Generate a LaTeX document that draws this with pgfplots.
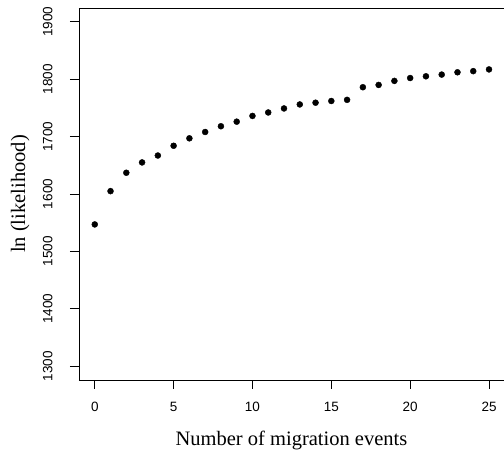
\documentclass[border=0pt]{standalone}
\usepackage{pgfplots}
\pgfplotsset{compat=1.18}
\usepackage{fontspec}
\setmainfont{Liberation Serif}
\newfontfamily\arialfont{Liberation Sans}

\begin{document}
\begin{tikzpicture}
\begin{axis}[
  scale only axis, width=425pt, height=372pt,
  xmin=-1, xmax=25.95, ymin=1276, ymax=1924,
  axis x line*=box, axis y line*=left,
  axis line style={line width=0.8pt, -},
  xtick={0,5,...,25}, ytick={1300,1400,...,1900},
  tick align=outside, major tick length=9pt,
  tick style={black, line width=0.8pt},
  xtick pos=bottom, ytick pos=left,
  /pgf/number format/assume math mode=true,
  /pgf/number format/1000 sep={},
  ticklabel style={font=\arialfont\fontsize{13.5}{15}\selectfont},
  yticklabel style={rotate=90, anchor=south},
  yticklabel shift=14pt, xticklabel shift=10pt,
  xlabel={Number of migration events},
  ylabel={ln (likelihood)},
  label style={font=\fontsize{20.5}{24}\selectfont},
  xlabel style={at={(axis description cs:0.5,-0.162)}, anchor=center},
  ylabel style={at={(axis description cs:-0.1385,0.5)}, anchor=center},
]
\addplot[only marks, mark=*, mark size=3pt, black] coordinates {
  (0,1547) (1,1605) (2,1637) (3,1655) (4,1667) (5,1684) (6,1697)
  (7,1708) (8,1718) (9,1726) (10,1736) (11,1742) (12,1749) (13,1756)
  (14,1759) (15,1762) (16,1764) (17,1786) (18,1790) (19,1797)
  (20,1802) (21,1805) (22,1808) (23,1812) (24,1814) (25,1817)
};
\end{axis}
\pgfresetboundingbox
\path (-79pt,-75pt) rectangle (425pt,380pt);
\end{tikzpicture}
\end{document}
